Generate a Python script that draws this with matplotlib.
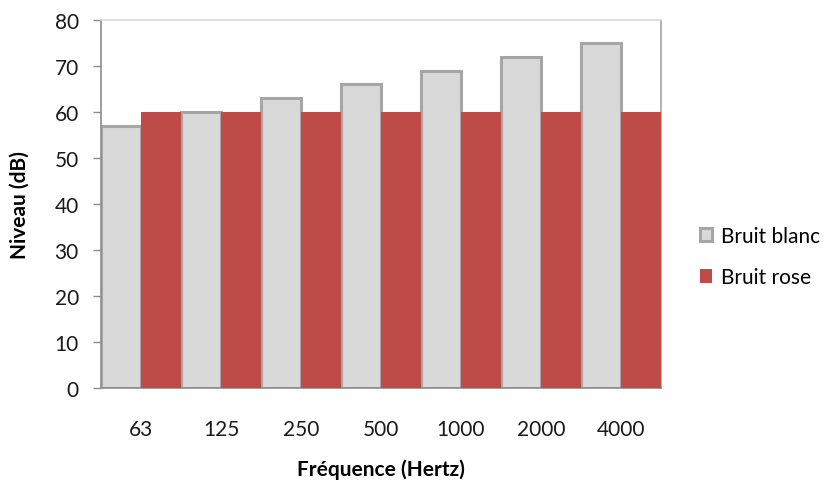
import matplotlib
matplotlib.use("Agg")
import matplotlib.pyplot as plt
import numpy as np

categories = ["63", "125", "250", "500", "1000", "2000", "4000"]
bruit_blanc = [57, 60, 63, 66, 69, 72, 75]
bruit_rose = [60, 60, 60, 60, 60, 60, 60]

plt.rcParams['font.family'] = ['Lato', 'DejaVu Sans']

fig = plt.figure(figsize=(8.26, 4.85), dpi=100)
ax = fig.add_axes([101/826, 1-389/485, 560/826, 368/485])

x = np.arange(len(categories))
w = 0.5
ax.bar(x - w/2, bruit_blanc, width=w, color="#d9d9d9", edgecolor="#a6a6a6",
       linewidth=2.2, label="Bruit blanc", zorder=2)
ax.bar(x + w/2, bruit_rose, width=w, color="#be4b48", edgecolor="#be4b48",
       linewidth=0, label="Bruit rose", zorder=3)

ax.set_xlim(-0.5, len(categories) - 0.5)
ax.set_ylim(0, 80)
ax.set_yticks(range(0, 81, 10))
ax.set_xticks(x)
ax.set_xticklabels(categories)

for s in ["left", "bottom"]:
    ax.spines[s].set_color("#8c8c8c")
    ax.spines[s].set_linewidth(1.2)
ax.spines["top"].set_color("#d9d9d9")
ax.spines["top"].set_linewidth(1.2)
ax.spines["right"].set_color("#a6a6a6")
ax.spines["right"].set_linewidth(1.2)

fs = 15
ax.tick_params(axis="y", direction="out", length=6, width=1, color="#8c8c8c",
               labelsize=fs, pad=10, labelcolor="#1a1a1a")
ax.tick_params(axis="x", length=0, labelsize=fs, pad=22, labelcolor="#1a1a1a")

ax.set_ylabel("Niveau (dB)", fontsize=fs, fontweight="bold")
ax.set_xlabel("Fréquence (Hertz)", fontsize=fs, fontweight="bold")
ax.yaxis.set_label_coords((20 - 101)/560, 0.5)
ax.xaxis.set_label_coords(0.5, (389 - 470)/368)
ax.xaxis.label.set_va("center")
ax.yaxis.label.set_va("center")

leg = fig.legend(loc="center left", bbox_to_anchor=(681/826, 1-257.5/485),
                 frameon=False, fontsize=fs, handlelength=0.6, handleheight=0.6,
                 handletextpad=0.4, labelspacing=1.05)

fig.savefig("out.png", dpi=100)
